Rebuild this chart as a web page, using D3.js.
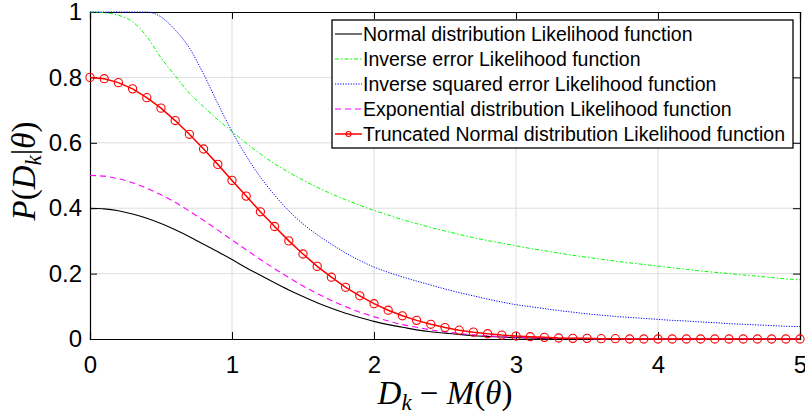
<!DOCTYPE html>
<html>
<head>
<meta charset="utf-8">
<script src="https://cdn.jsdelivr.net/npm/d3@7"></script>
<style>
  body { margin: 0; background: #fff; }
  svg { display: block; }
</style>
</head>
<body>
<div id="chart"></div>
<script>
/* values, x step 0.1 from 0 to 5 */
var xs = [0,0.1,0.2,0.3,0.4,0.5,0.6,0.7,0.8,0.9,1,1.1,1.2,1.3,1.4,1.5,1.6,1.7,1.8,1.9,2,
          2.1,2.2,2.3,2.4,2.5,2.6,2.7,2.8,2.9,3,3.1,3.2,3.3,3.4,3.5,3.6,3.7,3.8,3.9,4,
          4.1,4.2,4.3,4.4,4.5,4.6,4.7,4.8,4.9,5];

var normalVals = [0.400,0.398,0.392,0.382,0.369,0.353,0.334,0.313,0.290,0.267,0.243,
                  0.218,0.195,0.172,0.150,0.130,0.111,0.094,0.079,0.066,0.054,
                  0.044,0.036,0.028,0.022,0.018,0.014,0.010,0.008,0.006,0.004,
                  0.003,0.002,0.002,0.001,0.001,0,0,0,0,0,
                  0,0,0,0,0,0,0,0,0,0];

var invErrVals = [1,0.998,0.99,0.97,0.925,0.86,0.805,0.752,0.71,0.671,0.635,
                  0.599,0.566,0.536,0.510,0.486,0.464,0.444,0.426,0.409,0.393,
                  0.379,0.365,0.353,0.341,0.330,0.320,0.310,0.301,0.293,0.285,
                  0.277,0.270,0.263,0.256,0.250,0.244,0.238,0.233,0.228,0.223,
                  0.218,0.213,0.208,0.204,0.200,0.196,0.192,0.188,0.184,0.181];

var invSqVals = [1,1,1,1,1,0.985,0.945,0.89,0.81,0.72,0.635,
                 0.560,0.495,0.440,0.392,0.352,0.319,0.290,0.263,0.240,0.220,
                 0.204,0.190,0.177,0.165,0.153,0.142,0.132,0.122,0.113,0.105,
                 0.099,0.093,0.087,0.082,0.077,0.073,0.069,0.066,0.063,0.060,
                 0.057,0.055,0.052,0.050,0.047,0.045,0.043,0.041,0.039,0.038];

var expVals = [0.500,0.498,0.490,0.478,0.461,0.441,0.418,0.391,0.363,0.333,0.303,
               0.273,0.243,0.215,0.188,0.162,0.139,0.118,0.099,0.082,0.068,
               0.055,0.044,0.036,0.028,0.022,0.017,0.013,0.010,0.007,0.006,
               0.004,0.003,0.002,0.002,0.001,0,0,0,0,0,
               0,0,0,0,0,0,0,0,0,0];

var truncVals = [0.800,0.796,0.784,0.765,0.738,0.706,0.668,0.626,0.581,0.534,0.485,
                 0.437,0.389,0.344,0.300,0.260,0.222,0.189,0.158,0.132,0.108,
                 0.088,0.071,0.057,0.045,0.035,0.027,0.021,0.016,0.012,0.009,
                 0.007,0.005,0.003,0.002,0.002,0.001,0.001,0,0,0,
                 0,0,0,0,0,0,0,0,0,0];

var xTicks = [0, 1, 2, 3, 4, 5];
var yTicks = [0, 0.2, 0.4, 0.6, 0.8, 1];
var legendLabels = ["Normal distribution Likelihood function",
                    "Inverse error Likelihood function",
                    "Inverse squared error Likelihood function",
                    "Exponential distribution Likelihood function",
                    "Truncated Normal distribution Likelihood function"];

var series = [
  { name: legendLabels[0], vals: normalVals, color: "#000000", dash: null, width: 1.1 },
  { name: legendLabels[1], vals: invErrVals, color: "#00ff00", dash: "4,2,1.5,2", width: 1 },
  { name: legendLabels[2], vals: invSqVals,  color: "#0000ff", dash: "1.2,1.4", width: 1 },
  { name: legendLabels[3], vals: expVals,    color: "#ff00ff", dash: "6,4", width: 1.1 },
  { name: legendLabels[4], vals: truncVals,  color: "#ff0000", dash: null, width: 1.5, marker: true }
];

/* boilerplate */
var W = 805, H = 417;
var margin = { top: 12, right: 5, bottom: 78, left: 90 },
    width = W - margin.left - margin.right,
    height = H - margin.top - margin.bottom;

var svg = d3.select("#chart")
            .append("svg")
            .attr("width", W)
            .attr("height", H)
            .append("g")
            .attr("transform", "translate(" + margin.left + "," + margin.top + ")");

var x = d3.scaleLinear().domain([0, 5]).range([0, width]);
var y = d3.scaleLinear().domain([0, 1]).range([height, 0]);

/* grid */
svg.selectAll(".gx")
   .data(xTicks.slice(1, -1))
   .enter()
   .append("line")
   .attr("x1", function (d) { return x(d); })
   .attr("x2", function (d) { return x(d); })
   .attr("y1", 0)
   .attr("y2", height)
   .style("stroke", "#dedede")
   .style("stroke-width", 1);

svg.selectAll(".gy")
   .data(yTicks.slice(1, -1))
   .enter()
   .append("line")
   .attr("x1", 0)
   .attr("x2", width)
   .attr("y1", function (d) { return y(d); })
   .attr("y2", function (d) { return y(d); })
   .style("stroke", "#dedede")
   .style("stroke-width", 1);

/* axes, ticks inside on all four sides */
var tickLen = 7;
svg.append("g")
   .attr("transform", "translate(0," + height + ")")
   .call(d3.axisBottom(x).tickValues(xTicks).tickSize(-tickLen).tickPadding(17).tickFormat(d3.format("d")));
svg.append("g")
   .call(d3.axisTop(x).tickValues(xTicks).tickSize(-tickLen).tickFormat(""));
svg.append("g")
   .call(d3.axisLeft(y).tickValues(yTicks).tickSize(-tickLen).tickPadding(8).tickFormat(function (d) { return d === 0 || d === 1 ? d : d3.format(".1f")(d); }));
svg.append("g")
   .attr("transform", "translate(" + width + ",0)")
   .call(d3.axisRight(y).tickValues(yTicks).tickSize(-tickLen).tickFormat(""));

svg.selectAll(".domain").style("stroke", "#000").style("stroke-width", 1.2);
svg.selectAll(".tick line").style("stroke", "#000").style("stroke-width", 1);
svg.selectAll(".tick text")
   .style("font-family", "'Liberation Sans', Arial, sans-serif")
   .style("font-size", "24px")
   .style("fill", "#000");

/* curves */
var line = d3.line()
             .x(function (d, i) { return x(xs[i]); })
             .y(function (d) { return y(d); });

series.forEach(function (s) {
  svg.append("path")
     .datum(s.vals)
     .attr("d", s.marker ? line.curve(d3.curveLinear)(s.vals) : line.curve(d3.curveMonotoneX)(s.vals))
     .style("fill", "none")
     .style("stroke", s.color)
     .style("stroke-width", s.width)
     .style("stroke-dasharray", s.dash);
  if (s.marker) {
    svg.selectAll(".mk")
       .data(s.vals)
       .enter()
       .append("circle")
       .attr("cx", function (d, i) { return x(xs[i]); })
       .attr("cy", function (d) { return y(d); })
       .attr("r", 4.1)
       .style("fill", "none")
       .style("stroke", s.color)
       .style("stroke-width", 1.1);
  }
});

/* legend */
var lg = svg.append("g").attr("transform", "translate(" + (332 - margin.left) + "," + (20 - margin.top) + ")");
lg.append("rect")
  .attr("width", 461)
  .attr("height", 128)
  .style("fill", "#fff")
  .style("stroke", "#000")
  .style("stroke-width", 1.3);

var rows = lg.selectAll(".row")
             .data(series)
             .enter()
             .append("g")
             .attr("transform", function (d, i) { return "translate(0," + (14 + i * 25) + ")"; });

rows.append("line")
    .attr("x1", 3)
    .attr("x2", 30)
    .style("stroke", function (d) { return d.color; })
    .style("stroke-width", function (d) { return d.width; })
    .style("stroke-dasharray", function (d) { return d.dash; });

rows.filter(function (d) { return d.marker; })
    .append("circle")
    .attr("cx", 16.5)
    .attr("r", 2.5)
    .style("fill", "none")
    .style("stroke", function (d) { return d.color; })
    .style("stroke-width", 1.1);

rows.append("text")
    .attr("x", 31)
    .attr("y", 6.5)
    .text(function (d) { return d.name; })
    .style("font-family", "'Liberation Sans', Arial, sans-serif")
    .style("font-size", "19.5px")
    .style("fill", "#000");

/* axis titles */
var mathFont = "'Liberation Serif', 'DejaVu Serif', serif";
var xt = svg.append("text")
            .attr("x", 445 - margin.left)
            .attr("y", 404 - margin.top)
            .attr("text-anchor", "middle")
            .style("font-family", mathFont)
            .style("font-size", "33px")
            .style("fill", "#000");
xt.append("tspan").style("font-style", "italic").text("D");
xt.append("tspan").style("font-style", "italic").style("font-size", "23px").attr("dy", 6).text("k");
xt.append("tspan").attr("dy", -6).text(" \u2212 ");
xt.append("tspan").style("font-style", "italic").text("M");
xt.append("tspan").text("(");
xt.append("tspan").style("font-style", "italic").text("\u03b8");
xt.append("tspan").text(")");

var yt = svg.append("text")
            .attr("transform", "translate(" + (35 - margin.left) + "," + (171 - margin.top) + ") rotate(-90)")
            .attr("text-anchor", "middle")
            .style("font-family", mathFont)
            .style("font-size", "33px")
            .style("fill", "#000");
yt.append("tspan").style("font-style", "italic").text("P");
yt.append("tspan").text("(");
yt.append("tspan").style("font-style", "italic").text("D");
yt.append("tspan").style("font-style", "italic").style("font-size", "23px").attr("dy", 6).text("k");
yt.append("tspan").attr("dy", -6).text("|");
yt.append("tspan").style("font-style", "italic").text("\u03b8");
yt.append("tspan").text(")");
</script>
</body>
</html>
